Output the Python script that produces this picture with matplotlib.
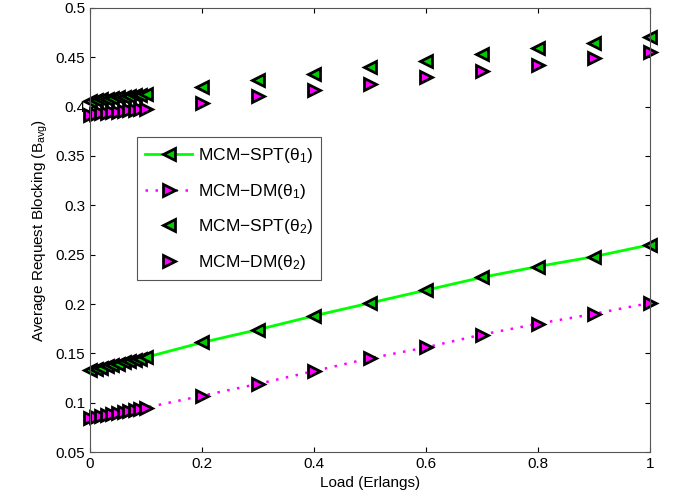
import numpy as np
import matplotlib.pyplot as plt

plt.rcParams['font.family'] = ['Liberation Sans', 'DejaVu Sans']
plt.rcParams['mathtext.fontset'] = 'custom'
plt.rcParams['mathtext.rm'] = 'Liberation Sans'
plt.rcParams['mathtext.it'] = 'Liberation Sans'

load = [0, 0.01, 0.02, 0.03, 0.04, 0.05, 0.06, 0.07, 0.08, 0.09, 0.1,
        0.2, 0.3, 0.4, 0.5, 0.6, 0.7, 0.8, 0.9, 1.0]

spt_t1 = [0.133, 0.1343, 0.1356, 0.1369, 0.1382, 0.1395, 0.1408, 0.1421, 0.1434, 0.1447, 0.146,
          0.161, 0.174, 0.188, 0.201, 0.214, 0.227, 0.238, 0.248, 0.260]
dm_t1 = [0.084, 0.0851, 0.0862, 0.0873, 0.0884, 0.0895, 0.0906, 0.0917, 0.0928, 0.0939, 0.095,
         0.107, 0.119, 0.132, 0.145, 0.156, 0.169, 0.180, 0.190, 0.201]
spt_t2 = [0.406, 0.4067, 0.4074, 0.4081, 0.4088, 0.4095, 0.4102, 0.4109, 0.4116, 0.4123, 0.413,
          0.420, 0.427, 0.433, 0.440, 0.446, 0.453, 0.459, 0.465, 0.471]
dm_t2 = [0.392, 0.3926, 0.3932, 0.3938, 0.3944, 0.395, 0.3956, 0.3962, 0.3968, 0.3974, 0.398,
         0.404, 0.411, 0.417, 0.423, 0.430, 0.436, 0.442, 0.449, 0.455]

fig = plt.figure(figsize=(6.77, 5), dpi=100)
ax = fig.add_axes([0.133, 0.096, 0.827, 0.888])

mk = dict(markersize=8.5, markeredgecolor='k', markeredgewidth=2, clip_on=False)
ax.plot(load, spt_t1, '-', color='#00ff00', lw=2, marker='<',
        markerfacecolor='#00cc00', label='MCM\u2212SPT(\u03b8$_1$)', **mk)
ax.plot(load, dm_t1, linestyle=(0, (1, 3)), color='#ff00ff', lw=1.8, marker='>',
        markerfacecolor='#ff00ff', label='MCM\u2212DM(\u03b8$_1$)', **mk)
ax.plot(load, spt_t2, linestyle='none', marker='<',
        markerfacecolor='#00cc00', label='MCM\u2212SPT(\u03b8$_2$)', **mk)
ax.plot(load, dm_t2, linestyle='none', marker='>',
        markerfacecolor='#ff00ff', label='MCM\u2212DM(\u03b8$_2$)', **mk)

ax.set_xlim(0, 1)
ax.set_ylim(0.05, 0.5)
ax.set_xticks(np.arange(0, 1.01, 0.2))
ax.set_xticklabels(['0', '0.2', '0.4', '0.6', '0.8', '1'])
ax.set_yticks(np.arange(0.05, 0.501, 0.05))
ax.set_yticklabels(['0.05', '0.1', '0.15', '0.2', '0.25', '0.3', '0.35', '0.4', '0.45', '0.5'])
ax.tick_params(direction='in', top=True, right=True, labelsize=11)
for s in ax.spines.values():
    s.set_color('#555555')
ax.set_xlabel('Load (Erlangs)', fontsize=11)
ax.set_ylabel('Average Request Blocking (B$_{avg}$)', fontsize=11)

leg = ax.legend(loc='upper left', bbox_to_anchor=(0.068, 0.728), fontsize=12.5,
                fancybox=False, edgecolor='#555555', handlelength=2.7, labelspacing=0.95,
                borderpad=0.5, numpoints=1, handletextpad=0.3, framealpha=1)
leg.get_frame().set_linewidth(0.8)

fig.savefig('out.png', dpi=100)
